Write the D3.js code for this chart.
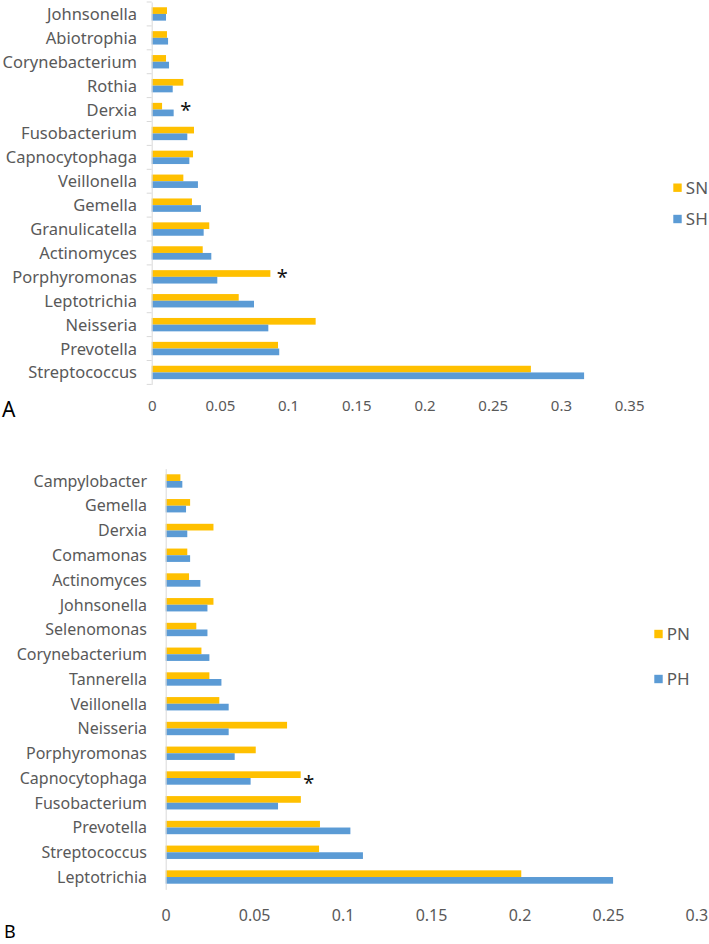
<!DOCTYPE html>
<html>
<head>
<meta charset="utf-8">
<script src="https://cdn.jsdelivr.net/npm/d3@7"></script>
<style>
  body { margin: 0; background: #fff; }
  text { font-family: "Noto Sans", sans-serif; }
</style>
</head>
<body>
<div id="chart"></div>
<script>
// panel A data (relative abundance)
var catsA = ["Johnsonella","Abiotrophia","Corynebacterium","Rothia","Derxia","Fusobacterium",
  "Capnocytophaga","Veillonella","Gemella","Granulicatella","Actinomyces","Porphyromonas",
  "Leptotrichia","Neisseria","Prevotella","Streptococcus"];
var snA = [0.0112,0.0112,0.0105,0.0232,0.0076,0.031,0.0303,0.0232,0.0295,0.0422,0.0374,0.087,
  0.0638,0.1202,0.0926,0.278];
var shA = [0.0105,0.012,0.0127,0.0154,0.0161,0.0261,0.0276,0.0339,0.0361,0.0381,0.0437,0.0481,
  0.075,0.0855,0.0935,0.317];
var starsA = ["Derxia","Porphyromonas"];
var ticksA = [0,0.05,0.1,0.15,0.2,0.25,0.3,0.35];
var tickLabelsA = ["0","0.05","0.1","0.15","0.2","0.25","0.3","0.35"];
var seriesA = ["SN","SH"];

// panel B data
var catsB = ["Campylobacter","Gemella","Derxia","Comamonas","Actinomyces","Johnsonella",
  "Selenomonas","Corynebacterium","Tannerella","Veillonella","Neisseria","Porphyromonas",
  "Capnocytophaga","Fusobacterium","Prevotella","Streptococcus","Leptotrichia"];
var pnB = [0.0083,0.0138,0.027,0.0122,0.0132,0.027,0.0173,0.0202,0.0247,0.0303,0.0686,0.0509,
  0.0763,0.0764,0.0872,0.0867,0.201];
var phB = [0.0094,0.0115,0.0122,0.0138,0.0196,0.0236,0.0236,0.0247,0.0315,0.0356,0.0356,0.039,
  0.048,0.0635,0.1044,0.1115,0.2529];
var starsB = ["Capnocytophaga"];
var ticksB = [0,0.05,0.1,0.15,0.2,0.25,0.3];
var tickLabelsB = ["0","0.05","0.1","0.15","0.2","0.25","0.3"];
var seriesB = ["PN","PH"];

var colors = ["#FFC000","#5B9BD5"];
var grey = "#595959";

var svg = d3.select("#chart").append("svg")
  .attr("width", 709)
  .attr("height", 944);

function drawPanel(p){
  var g = svg.append("g");
  var x = d3.scaleLinear().domain([0, p.ticks[p.ticks.length-1]])
    .range([p.x0, p.x0 + p.ticks[p.ticks.length-1]*p.unit]);
  var y = d3.scaleBand().domain(p.cats).range([p.top, p.bottom])
    .paddingInner(p.pad).paddingOuter(p.pad/2);
  var sub = d3.scaleBand().domain([0,1]).range([0, y.bandwidth()]);

  // bars
  var rows = p.cats.map(function(c,i){ return {cat:c, v:[p.a[i], p.b[i]]}; });
  g.append("g").selectAll("g").data(rows).enter().append("g")
    .attr("transform", function(d){ return "translate(0," + y(d.cat) + ")"; })
    .selectAll("rect").data(function(d){ return d.v; }).enter().append("rect")
      .attr("x", x(0))
      .attr("y", function(d,i){ return sub(i); })
      .attr("width", function(d){ return x(d) - x(0); })
      .attr("height", sub.bandwidth())
      .attr("fill", function(d,i){ return colors[i]; });

  // y axis
  var ya = g.append("g")
    .attr("transform", "translate(" + p.x0 + ",0)")
    .call(d3.axisLeft(y).tickSize(0).tickSizeOuter(0).tickPadding(p.labelGap));
  ya.select(".domain").attr("stroke", "#d9d9d9");
  ya.selectAll("text")
    .attr("fill", grey)
    .style("font-size", p.labelSize + "px")
    .attr("dy", "0.36em");
  if(p.boundaryTicks){
    var bounds = d3.range(p.cats.length + 1).map(function(i){ return p.top + i*y.step(); });
    ya.selectAll("line.bt").data(bounds).enter().append("line")
      .attr("class","bt")
      .attr("x1", -5).attr("x2", 0)
      .attr("y1", function(d){ return d; }).attr("y2", function(d){ return d; })
      .attr("stroke", "#d9d9d9");
  }

  // x axis labels
  var xa = g.append("g")
    .attr("transform", "translate(0," + p.tickY + ")")
    .call(d3.axisBottom(x).tickValues(p.ticks).tickSize(0)
      .tickFormat(function(d,i){ return p.tickLabels[i]; }));
  xa.select(".domain").remove();
  xa.selectAll("text")
    .attr("y", 0).attr("dy", null)
    .attr("fill", grey)
    .style("font-size", p.tickSize + "px");

  // significance marks
  g.selectAll("text.star").data(p.stars).enter().append("text")
    .attr("class","star")
    .attr("x", function(c){ var i = p.cats.indexOf(c); return x(Math.max(p.a[i], p.b[i])) + p.starGap; })
    .attr("y", function(c){ return y(c) + y.bandwidth()/2 + p.starDy; })
    .attr("text-anchor","middle")
    .attr("fill","#111")
    .style("font-size","20px")
    .text("*");

  // legend
  var lg = g.append("g").selectAll("g").data(p.series).enter().append("g")
    .attr("transform", function(d,i){ return "translate(" + p.legX + "," + p.legY[i] + ")"; });
  lg.append("rect").attr("x",0).attr("y",-4.2).attr("width",8.4).attr("height",8.4)
    .attr("fill", function(d,i){ return colors[i]; });
  lg.append("text").attr("x", 12.5).attr("y", 0).attr("dy","0.36em")
    .attr("fill", grey).style("font-size","17px")
    .text(function(d){ return d; });

  // panel letter
  g.append("text").attr("x", p.letterX).attr("y", p.letterY)
    .attr("fill","#000").style("font-size", p.letterSize + "px")
    .text(p.letter);
}

drawPanel({
  cats: catsA, a: snA, b: shA, stars: starsA, series: seriesA,
  ticks: ticksA, tickLabels: tickLabelsA,
  x0: 151.7, unit: 1364, top: 2, bottom: 384.4, pad: 0.44,
  labelGap: 14.7, labelSize: 16.5, boundaryTicks: true,
  tickY: 410.5, tickSize: 15,
  starGap: 12, starDy: 7,
  legX: 673.3, legY: [187.7, 219],
  letter: "A", letterX: 2, letterY: 417, letterSize: 21
});

drawPanel({
  cats: catsB, a: pnB, b: phB, stars: starsB, series: seriesB,
  ticks: ticksB, tickLabels: tickLabelsB,
  x0: 165.7, unit: 1769, top: 468.6, bottom: 889.4, pad: 0.46,
  labelGap: 18.7, labelSize: 16, boundaryTicks: false,
  tickY: 920.7, tickSize: 16,
  starGap: 8, starDy: 12,
  legX: 654.3, legY: [634, 679],
  letter: "B", letterX: 4, letterY: 938, letterSize: 18
});
</script>
</body>
</html>
